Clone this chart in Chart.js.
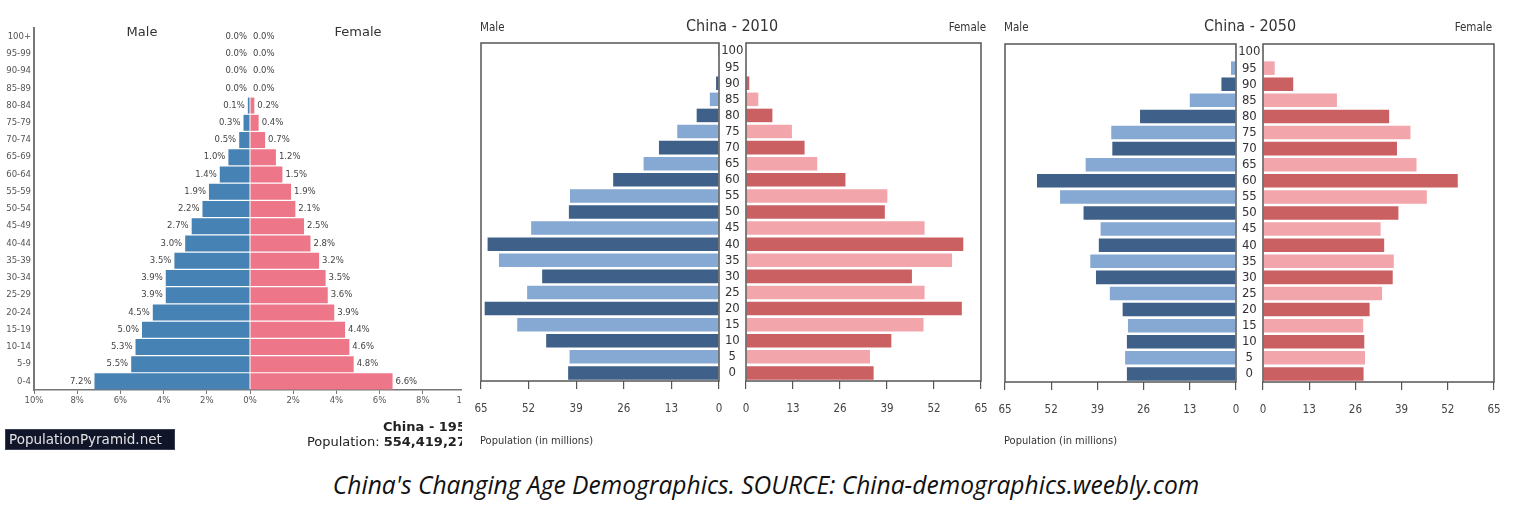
<!DOCTYPE html>
<html>
<head>
<meta charset="utf-8">
<script src="https://cdn.jsdelivr.net/npm/chart.js@4.4.1/dist/chart.umd.min.js"></script>
<style>
  html, body { margin: 0; padding: 0; background: #fff; }
  body { width: 1538px; height: 505px; position: relative; overflow: hidden; }
  canvas { position: absolute; }
  .txt { position: absolute; white-space: nowrap; line-height: 1; }
  #pyrWrap { position: absolute; left: 0; top: 0; width: 462px; height: 460px; overflow: hidden; }
</style>
</head>
<body>
<div id="pyrWrap">
  <canvas id="pyr" width="520" height="460" style="left:0;top:0"></canvas>
  <div class="txt" id="pyrTitle" style="right:-13px;top:419px;font:bold 13px 'DejaVu Sans';color:#222;">China - 1950</div>
  <div class="txt" id="pyrPop" style="right:-13px;top:434px;font:13px 'DejaVu Sans';color:#222;">Population: <b>554,419,275</b></div>
  <div class="txt" style="left:5px;top:429px;width:165px;height:19px;background:#10152a;border:1px solid #3a3f55;color:#e2e2e2;font:13.5px 'DejaVu Sans';line-height:19px;padding-left:3px;">PopulationPyramid.net</div>
</div>
<canvas id="m2010" width="254" height="460" style="left:470px;top:0"></canvas>
<canvas id="f2010" width="272" height="460" style="left:719px;top:0"></canvas>
<canvas id="m2050" width="247" height="460" style="left:994px;top:0"></canvas>
<canvas id="f2050" width="268" height="460" style="left:1236px;top:0"></canvas>
<div class="txt" id="caption" style="left:766px;top:484px;transform:translate(-50%,-50%);font:italic 22px 'Open Sans','Noto Sans';color:#111;">China's Changing Age Demographics. SOURCE: China-demographics.weebly.com</div>
<script>
// PopulationPyramid.net panel (percent of total population), bottom to top
const pyrAges = ['0-4', '5-9', '10-14', '15-19', '20-24', '25-29', '30-34', '35-39', '40-44', '45-49',
  '50-54', '55-59', '60-64', '65-69', '70-74', '75-79', '80-84', '85-89', '90-94', '95-99', '100+'];
const pyrMale = [7.2, 5.5, 5.3, 5.0, 4.5, 3.9, 3.9, 3.5, 3.0, 2.7, 2.2, 1.9, 1.4, 1.0, 0.5, 0.3, 0.1, 0.0, 0.0, 0.0, 0.0];
const pyrFemale = [6.6, 4.8, 4.6, 4.4, 3.9, 3.6, 3.5, 3.2, 2.8, 2.5, 2.1, 1.9, 1.5, 1.2, 0.7, 0.4, 0.2, 0.0, 0.0, 0.0, 0.0];
const pyrTicks = [-10, -8, -6, -4, -2, 0, 2, 4, 6, 8, 10];

// China 2010 / 2050 (population in millions), bottom to top
const ages = ['0', '5', '10', '15', '20', '25', '30', '35', '40', '45', '50',
  '55', '60', '65', '70', '75', '80', '85', '90', '95', '100'];
const male2010 = [41.2, 40.8, 47.2, 55.1, 64.0, 52.4, 48.3, 60.1, 63.2, 51.3, 41.0, 40.7, 28.9, 20.6, 16.4, 11.4, 6.1, 2.5, 0.8, 0.2, 0.1];
const female2010 = [35.3, 34.3, 40.2, 49.1, 59.7, 49.4, 45.9, 57.0, 60.1, 49.4, 38.4, 39.1, 27.5, 19.7, 16.2, 12.7, 7.3, 3.4, 0.9, 0.1, 0.0];
const male2050 = [30.7, 31.2, 30.7, 30.4, 31.9, 35.5, 39.4, 41.0, 38.6, 38.1, 42.9, 49.5, 56.0, 42.3, 34.8, 35.1, 27.0, 13.0, 4.1, 1.4, 0.2];
const female2050 = [28.3, 28.7, 28.5, 28.2, 30.0, 33.5, 36.5, 36.8, 34.1, 33.1, 38.1, 46.1, 54.8, 43.2, 37.7, 41.5, 35.5, 20.8, 8.5, 3.3, 0.2];
const popTicks = [0, 13, 26, 39, 52, 65];

// check which narrow font is installed
function fontAvailable(name) {
  const c = document.createElement('canvas').getContext('2d');
  const probe = 'mmmwwwlll0123456789';
  c.font = '50px monospace'; const a = c.measureText(probe).width;
  c.font = '50px serif'; const b = c.measureText(probe).width;
  c.font = '50px "' + name + '", monospace'; const a2 = c.measureText(probe).width;
  c.font = '50px "' + name + '", serif'; const b2 = c.measureText(probe).width;
  return a !== a2 || b !== b2;
}
let narrow = "'DejaVu Sans Condensed'", k = 1;
if (!fontAvailable('DejaVu Sans Condensed')) {
  if (fontAvailable('Liberation Sans Narrow')) { narrow = "'Liberation Sans Narrow'"; k = 1.2; }
  else { narrow = "'DejaVu Sans'"; k = 0.9; }
}

function addText(text, x, y, align, font, color) {
  const d = document.createElement('div');
  d.className = 'txt';
  d.textContent = text;
  d.style.left = x + 'px';
  d.style.top = y + 'px';
  d.style.font = font;
  d.style.color = color || '#333';
  const tx = align === 'center' ? '-50%' : (align === 'right' ? '-100%' : '0');
  d.style.transform = 'translate(' + tx + ',-50%)';
  document.body.appendChild(d);
}

// labels at bar ends + Male / Female headers for the percentage pyramid
const pyrLabels = {
  id: 'pyrLabels',
  afterDatasetsDraw(chart) {
    const { ctx, scales } = chart;
    ctx.save();
    ctx.font = "8.5px 'DejaVu Sans'";
    ctx.fillStyle = '#444';
    ctx.textBaseline = 'middle';
    chart.getDatasetMeta(0).data.forEach((bar, i) => {
      ctx.textAlign = 'right';
      ctx.fillText(pyrMale[i].toFixed(1) + '%', bar.x - 3, bar.y);
    });
    chart.getDatasetMeta(1).data.forEach((bar, i) => {
      ctx.textAlign = 'left';
      ctx.fillText(pyrFemale[i].toFixed(1) + '%', bar.x + 3, bar.y);
    });
    ctx.font = "13px 'DejaVu Sans'";
    ctx.fillStyle = '#333';
    ctx.textAlign = 'center';
    ctx.fillText('Male', scales.x.getPixelForValue(-5), 33);
    ctx.fillText('Female', scales.x.getPixelForValue(5), 33);
    ctx.restore();
  }
};

new Chart(document.getElementById('pyr'), {
  type: 'bar',
  data: {
    labels: pyrAges,
    datasets: [
      { label: 'Male', data: pyrMale.map(v => -v), backgroundColor: '#4682b4', barPercentage: 0.93, categoryPercentage: 1 },
      { label: 'Female', data: pyrFemale, backgroundColor: '#ee7689', barPercentage: 0.93, categoryPercentage: 1 }
    ]
  },
  options: {
    indexAxis: 'y',
    responsive: false,
    animation: false,
    layout: { padding: { left: 0, right: 54, top: 28, bottom: 40 } },
    plugins: { legend: { display: false }, tooltip: { enabled: false } },
    scales: {
      x: {
        stacked: true,
        min: -10,
        max: 10,
        afterBuildTicks(scale) { scale.ticks = pyrTicks.map(v => ({ value: v })); },
        ticks: { callback: v => Math.abs(v) + '%', font: { family: 'DejaVu Sans', size: 8.5 }, color: '#555', padding: 2, maxRotation: 0 },
        grid: { drawOnChartArea: false, tickLength: 4, color: '#777' },
        border: { color: '#777', width: 1.5 },
        afterFit(s) { s.height = 30; }
      },
      y: {
        stacked: true,
        reverse: true,
        ticks: { font: { family: 'DejaVu Sans', size: 8.5 }, color: '#555', padding: 3, autoSkip: false },
        grid: { display: false, drawTicks: false },
        border: { color: '#777', width: 2 },
        afterFit(s) { s.width = 34; }
      }
    }
  },
  plugins: [pyrLabels]
});

// frame round each half of the 2010 / 2050 pyramids
const boxPlugin = {
  id: 'box',
  afterDraw(chart) {
    const { ctx, chartArea: a } = chart;
    ctx.save();
    ctx.strokeStyle = '#555';
    ctx.lineWidth = 1.5;
    ctx.strokeRect(a.left, a.top, a.right - a.left, a.bottom - a.top);
    ctx.restore();
  }
};

function sideChart(id, values, dark, light, reverse, showAges, padding) {
  return new Chart(document.getElementById(id), {
    type: 'bar',
    data: {
      labels: ages,
      datasets: [{
        data: values,
        backgroundColor: ages.map((a, i) => (i % 2 === 0 ? dark : light)),
        barPercentage: 0.84,
        categoryPercentage: 1
      }]
    },
    options: {
      indexAxis: 'y',
      responsive: false,
      animation: false,
      layout: { padding: padding },
      plugins: { legend: { display: false }, tooltip: { enabled: false } },
      scales: {
        x: {
          min: 0,
          max: 65,
          reverse: reverse,
          afterBuildTicks(scale) { scale.ticks = popTicks.map(v => ({ value: v })); },
          ticks: { font: { family: narrow, size: 11.5 * k }, color: '#444', padding: 13, maxRotation: 0, autoSkip: false },
          grid: { drawOnChartArea: false, tickLength: 8, color: '#555', lineWidth: 1.2 },
          border: { display: false },
          // the label padding would otherwise shrink the plot sideways
          afterFit(s) { s.height = 40; s.paddingLeft = 0; s.paddingRight = 0; }
        },
        y: {
          reverse: true,
          display: showAges,
          ticks: { font: { family: narrow, size: 13 * k }, color: '#333', crossAlign: 'center', padding: 2.5, autoSkip: false },
          grid: { display: false, drawTicks: false },
          border: { display: false },
          afterFit(s) { if (showAges) s.width = 27; }
        }
      }
    },
    plugins: [boxPlugin]
  });
}

const DARK_BLUE = '#3f6089', LIGHT_BLUE = '#85a9d2', DARK_RED = '#cb6063', LIGHT_RED = '#f2a6ab';

sideChart('m2010', male2010, DARK_BLUE, LIGHT_BLUE, true, false, { left: 11, right: 5, top: 43, bottom: 39 });
sideChart('f2010', female2010, DARK_RED, LIGHT_RED, false, true, { left: 0, right: 10, top: 43, bottom: 39 });
sideChart('m2050', male2050, DARK_BLUE, LIGHT_BLUE, true, false, { left: 11, right: 5, top: 44, bottom: 38 });
sideChart('f2050', female2050, DARK_RED, LIGHT_RED, false, true, { left: 0, right: 10, top: 44, bottom: 38 });

// titles and axis captions
const nf = (s) => (s * k) + 'px ' + narrow;
addText('China - 2010', 732, 25, 'center', nf(16));
addText('Male', 480, 27, 'left', nf(11.5));
addText('Female', 986, 27, 'right', nf(11.5));
addText('Population (in millions)', 480, 440, 'left', nf(11));
addText('China - 2050', 1250, 25, 'center', nf(16));
addText('Male', 1004, 27, 'left', nf(11.5));
addText('Female', 1492, 27, 'right', nf(11.5));
addText('Population (in millions)', 1004, 440, 'left', nf(11));

// stretch the caption to the width it has in the picture
const cap = document.getElementById('caption');
const w = cap.getBoundingClientRect().width;
cap.style.fontSize = (22 * 867 / w) + 'px';
</script>
</body>
</html>
